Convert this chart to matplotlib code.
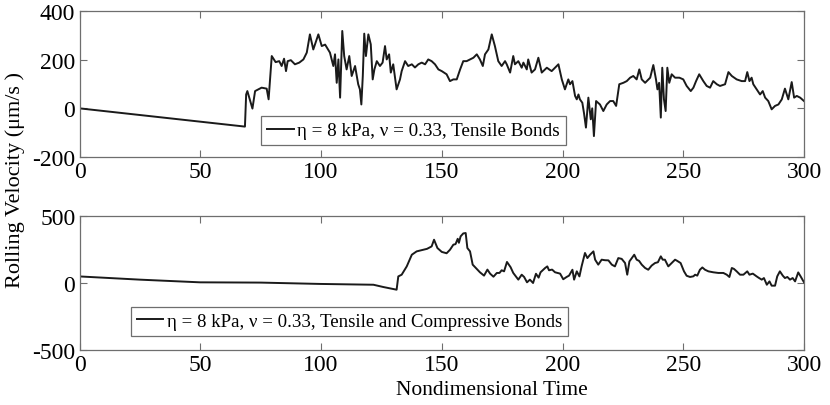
import matplotlib
matplotlib.use("Agg")
import matplotlib.pyplot as plt

plt.rcParams['font.family'] = ['Liberation Serif', 'DejaVu Serif']
plt.rcParams['axes.unicode_minus'] = False

# top panel: tensile bonds
t_top = [0, 68.5, 69.0, 69.5, 71.6, 72.7, 75.4, 77.5, 78.3, 79.6, 81.2, 82.7, 83.7,
         84.7, 85.5, 86.2, 87.5, 89.2, 91.0, 92.7, 94.1, 95.4, 96.8, 98.9, 100.3,
         101.7, 103.7, 105.1, 105.8, 106.5, 107.2, 107.9, 108.8, 109.6, 110.6,
         111.7, 112.7, 114.1, 115.4, 116.1, 116.7, 117.3, 117.9, 118.6, 119.6,
         120.6, 121.4, 122.1, 123.1, 124.4, 125.5, 126.5, 127.2, 128.2, 128.9,
         129.9, 131.3, 132.7, 133.4, 134.8, 136.1, 137.6, 138.9, 140.3, 141.7,
         143.1, 144.4, 145.8, 147.2, 148.6, 150.0, 152.0, 153.4, 154.8, 156.2,
         157.6, 158.9, 160.3, 161.7, 163.1, 164.5, 165.8, 167.0, 167.9, 169.3,
         170.7, 172.0, 173.4, 174.8, 176.2, 176.9, 178.3, 179.6, 180.3, 181.7,
         183.1, 183.8, 185.2, 185.8, 187.2, 188.6, 190.0, 191.4, 193.5, 195.5,
         196.9, 198.3, 199.7, 201.0, 202.4, 203.1, 204.1, 205.2, 205.9, 206.6,
         207.2, 208.2, 208.9, 209.7, 210.7, 211.7, 212.3, 213.0, 213.9, 215.5,
         216.9, 218.3, 219.7, 221.0, 222.2, 223.5, 225.2, 226.6, 228.0, 229.3,
         230.7, 231.8, 232.8, 234.2, 236.3, 237.6, 238.7, 239.3, 240.0, 240.7,
         241.3, 242.0, 242.7, 243.4, 244.2, 245.2, 246.6, 248.4, 250.0, 251.4,
         253.1, 254.2, 255.3, 256.6, 258.3, 259.7, 261.1, 262.4, 263.9, 265.2,
         267.3, 268.7, 270.1, 272.1, 274.2, 275.6, 276.5, 277.4, 278.3, 279.0,
         280.4, 281.8, 282.9, 283.9, 285.2, 286.6, 288.0, 289.4, 290.8, 292.1,
         293.5, 294.9, 295.9, 297.0, 298.4, 300.0]
v_top = [0, -75, 57, 71, -1, 71, 85, 81, 37, 215, 190, 194, 174,
         204, 153, 194, 198, 181, 188, 201, 229, 304, 242, 304, 256,
         262, 229, 174, 222, 105, 201, 44, 318, 215, 160,
         215, 133, 174, 99, 78, 16, 133, 307, 215, 304,
         263, 119, 160, 194, 174, 188, 256, 201, 222, 147,
         181, 78, 119, 153, 194, 174, 181, 168, 181, 188,
         181, 201, 194, 181, 160, 153, 140, 112, 119, 119,
         160, 194, 194, 201, 208, 222, 201, 174, 222, 242,
         304, 256, 194, 174, 194, 181, 147, 215, 181, 194,
         167, 188, 160, 201, 147, 160, 208, 147, 167, 153,
         167, 181, 119, 78, 119, 99, 112, 51, 37, 57,
         37, 23, -20, -79, 44, -45, 0, -114, 30, 16,
         -11, 16, 30, 30, 10, 99, 105, 112, 126, 133,
         119, 160, 119, 105, 126, 178, 119, 78, 105, -38,
         167, 37, -11, 167, 105, 140, 126, 126, 119, 92,
         71, 85, 112, 140, 112, 92, 85, 112, 99, 92,
         99, 149, 133, 119, 112, 112, 149, 112, 126, 99,
         78, 57, 71, 44, 30, -4, 10, 16, 37, 81,
         37, 108, 44, 51, 44, 30]

# bottom panel: tensile and compressive bonds
t_bot = [0, 25, 49.9, 75, 99.6, 121.7, 125.8, 131.3, 132.0, 133.4, 135.5, 137.6,
         139.6, 142.4, 143.9, 145.8, 146.8, 148.2, 150.0, 152.0, 153.4, 154.8,
         155.7, 156.6, 157.1, 157.8, 158.9, 159.9, 160.6, 161.7, 162.8, 164.5,
         165.8, 167.5, 168.9, 170.0, 171.4, 172.8, 173.9, 174.8, 175.8, 177.0,
         178.5, 179.6, 181.7, 183.1, 184.1, 185.3, 186.5, 187.8, 189.0, 190.1,
         190.9, 192.8, 193.7, 194.4, 195.7, 196.9, 199.0, 200.3, 201.7, 202.7,
         204.1, 204.8, 205.9, 207.0, 207.9, 209.3, 210.3, 211.4, 212.8, 213.5,
         214.8, 216.2, 217.6, 219.0, 220.4, 221.7, 223.1, 224.5, 225.9, 226.8,
         227.7, 228.7, 229.7, 230.7, 231.7, 232.8, 234.2, 235.5, 236.9, 238.3,
         239.5, 240.7, 241.5, 242.4, 243.8, 245.2, 246.6, 247.5, 248.9, 250.3,
         251.4, 252.8, 254.2, 254.9, 255.8, 256.9, 257.9, 259.0, 260.4, 262.4,
         264.5, 266.6, 268.0, 269.1, 270.1, 271.0, 272.1, 273.5, 274.9, 276.5,
         277.4, 278.8, 280.4, 281.4, 282.5, 283.4, 284.6, 285.7, 286.6, 288.0,
         288.9, 290.0, 291.2, 292.1, 293.1, 294.2, 295.3, 296.3, 297.6, 298.6,
         300.0]
v_bot = [49, 25, 5, 3, -7, -13, -30, -50, 49, 62, 124, 211,
         236, 248, 255, 273, 323, 261, 232, 222, 248, 286,
         290, 330, 300, 348, 370, 373, 261, 236, 137, 105,
         80, 55, 100, 70, 47, 75, 75, 95, 87, 157,
         118, 75, 25, 62, 45, 5, 25, 0, 69, 40,
         80, 112, 124, 95, 100, 80, 70, 28, 45, 55,
         99, 25, 87, 49, 124, 224, 186, 211, 236, 174,
         137, 174, 170, 169, 137, 124, 186, 180, 149, 62,
         161, 186, 211, 174, 165, 137, 112, 99, 130, 149,
         155, 199, 174, 174, 124, 149, 174, 165, 149, 87,
         54, 45, 50, 62, 55, 99, 116, 99, 87, 80,
         75, 75, 62, 45, 112, 105, 87, 62, 62, 87,
         62, 70, 49, 37, 25, 37, -13, 12, -20, -20,
         49, 87, 55, 37, 45, 25, 37, 12, 79, 49,
         5]

label_top = 'η = 8 kPa, ν = 0.33, Tensile Bonds'
label_bot = 'η = 8 kPa, ν = 0.33, Tensile and Compressive Bonds'

fig = plt.figure(figsize=(8.3, 4.06), dpi=100)
ax1 = fig.add_axes([0.0958, 0.6108, 0.8729, 0.3596])
ax2 = fig.add_axes([0.0958, 0.1355, 0.8729, 0.3300])

line_color = '#1a1a1a'
spine_color = '#6e6e6e'

ax1.plot(t_top, v_top, color=line_color, lw=1.4, label=label_top)
ax2.plot(t_bot, v_bot, color=line_color, lw=1.4, label=label_bot)

ax1.set_ylim(-200, 400)
ax1.set_yticks([-200, 0, 200, 400])
ax2.set_ylim(-500, 500)
ax2.set_yticks([-500, 0, 500])

for ax in (ax1, ax2):
    ax.set_xlim(0, 300)
    ax.set_xticks([0, 50, 100, 150, 200, 250, 300])
    ax.tick_params(direction='in', top=True, right=True, length=5,
                   width=0.8, color=spine_color, labelsize=17, pad=3)
    for s in ax.spines.values():
        s.set_color(spine_color)
        s.set_linewidth(0.9)

leg1 = ax1.legend(loc='lower left', bbox_to_anchor=(0.2505, 0.082),
                  borderaxespad=0, fancybox=False, framealpha=1,
                  edgecolor=spine_color, fontsize=13.8, handlelength=1.4,
                  handletextpad=0.2, borderpad=0.3)
leg2 = ax2.legend(loc='lower left', bbox_to_anchor=(0.0711, 0.107),
                  borderaxespad=0, fancybox=False, framealpha=1,
                  edgecolor=spine_color, fontsize=13.6, handlelength=1.4,
                  handletextpad=0.2, borderpad=0.3)
for leg in (leg1, leg2):
    leg.get_frame().set_linewidth(0.9)

fig.text(0.593, 0.037, 'Nondimensional Time', ha='center', va='center', fontsize=15.5)
fig.text(0.018, 0.557, 'Rolling Velocity (μm/s )', ha='center', va='center',
         rotation=90, fontsize=16)

fig.savefig('out.png', dpi=100)
